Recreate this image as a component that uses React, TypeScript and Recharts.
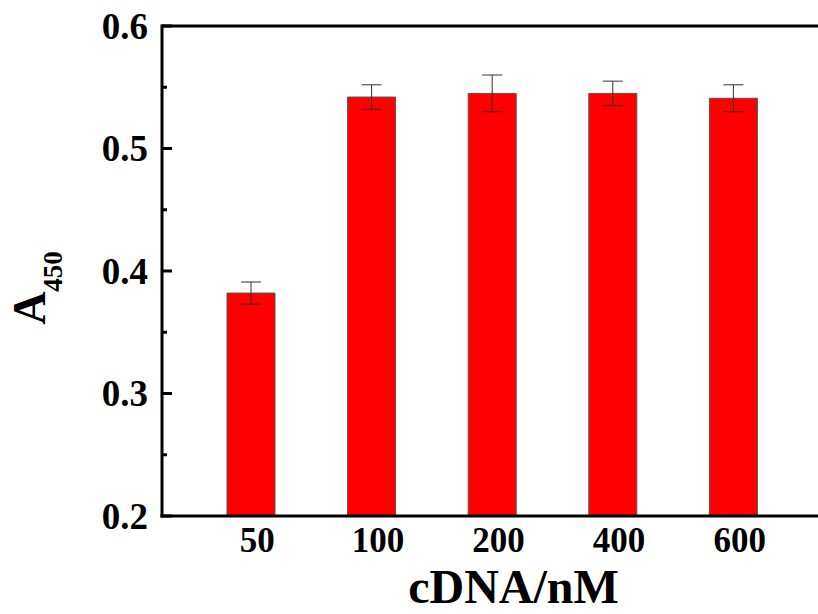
import { BarChart, Bar, XAxis, YAxis, ErrorBar, ReferenceLine } from 'recharts';

const concentrations = ['50', '100', '200', '400', '600'];
const absorbance = [0.382, 0.542, 0.545, 0.545, 0.541];
const errors = [0.009, 0.01, 0.015, 0.01, 0.011];
const yTicks = [0.2, 0.25, 0.3, 0.35, 0.4, 0.45, 0.5, 0.55, 0.6];

const FONT = '"Liberation Serif", "Times New Roman", serif';

const data = concentrations.map((name, i) => ({
  name,
  value: absorbance[i],
  err: errors[i],
}));

function YTick(props: any) {
  const { x, y, payload } = props;
  const major = Math.round(payload.value * 100) % 10 === 0;
  return (
    <g>
      <line x1={x} x2={x + (major ? 10 : 5)} y1={y} y2={y} stroke="#000" strokeWidth={3} />
      {major && (
        <text
          x={x - 14}
          y={y}
          textAnchor="end"
          dominantBaseline="central"
          fontFamily={FONT}
          fontWeight="bold"
          fontSize={37}
          fill="#000"
        >
          {payload.value.toFixed(1)}
        </text>
      )}
    </g>
  );
}

function XTick(props: any) {
  const { x, y, payload } = props;
  return (
    <text
      x={x + 6}
      y={y + 36}
      textAnchor="middle"
      fontFamily={FONT}
      fontWeight="bold"
      fontSize={35}
      fill="#000"
    >
      {payload.value}
    </text>
  );
}

export default function App() {
  return (
    <div
      style={{
        position: 'fixed',
        left: 0,
        top: 0,
        width: 818,
        height: 614,
        overflow: 'hidden',
        background: '#fff',
      }}
    >
      <BarChart
        width={840}
        height={614}
        data={data}
        margin={{ top: 26, right: 17, bottom: 0, left: 0 }}
      >
        <XAxis
          dataKey="name"
          height={98}
          interval={0}
          padding={{ left: 29, right: 29 }}
          tickSize={0}
          tickMargin={0}
          tickLine={false}
          tick={<XTick />}
          axisLine={{ stroke: '#000', strokeWidth: 3, strokeLinecap: 'square' }}
          label={{
            content: (p: any) => {
              const vb = p.viewBox;
              return (
                <text
                  x={vb.x + vb.width / 2 + 21}
                  y={vb.y + 87}
                  textAnchor="middle"
                  fontFamily={FONT}
                  fontWeight="bold"
                  fontSize={48}
                  fill="#000"
                >
                  cDNA/nM
                </text>
              );
            },
          }}
        />
        <YAxis
          type="number"
          width={162}
          domain={[0.2, 0.6]}
          ticks={yTicks}
          interval={0}
          allowDataOverflow
          tickSize={0}
          tickMargin={0}
          tickLine={false}
          tick={<YTick />}
          axisLine={{ stroke: '#000', strokeWidth: 3, strokeLinecap: 'square' }}
          label={{
            content: (p: any) => {
              const vb = p.viewBox;
              const cy = vb.y + vb.height / 2 + 17;
              return (
                <g transform={`translate(45, ${cy}) rotate(-90)`}>
                  <text
                    x={0}
                    y={0}
                    textAnchor="middle"
                    fontFamily={FONT}
                    fontWeight="bold"
                    fontSize={46}
                    fill="#000"
                  >
                    A
                    <tspan dy={17} fontSize={27}>
                      450
                    </tspan>
                  </text>
                </g>
              );
            },
          }}
        />
        <ReferenceLine y={0.6} stroke="#000" strokeWidth={3} />
        <Bar
          dataKey="value"
          fill="#ff0000"
          stroke="#555"
          strokeWidth={1}
          barSize={48}
          isAnimationActive={false}
        >
          <ErrorBar dataKey="err" width={10} stroke="#333" strokeWidth={1} direction="y" />
        </Bar>
      </BarChart>
    </div>
  );
}
